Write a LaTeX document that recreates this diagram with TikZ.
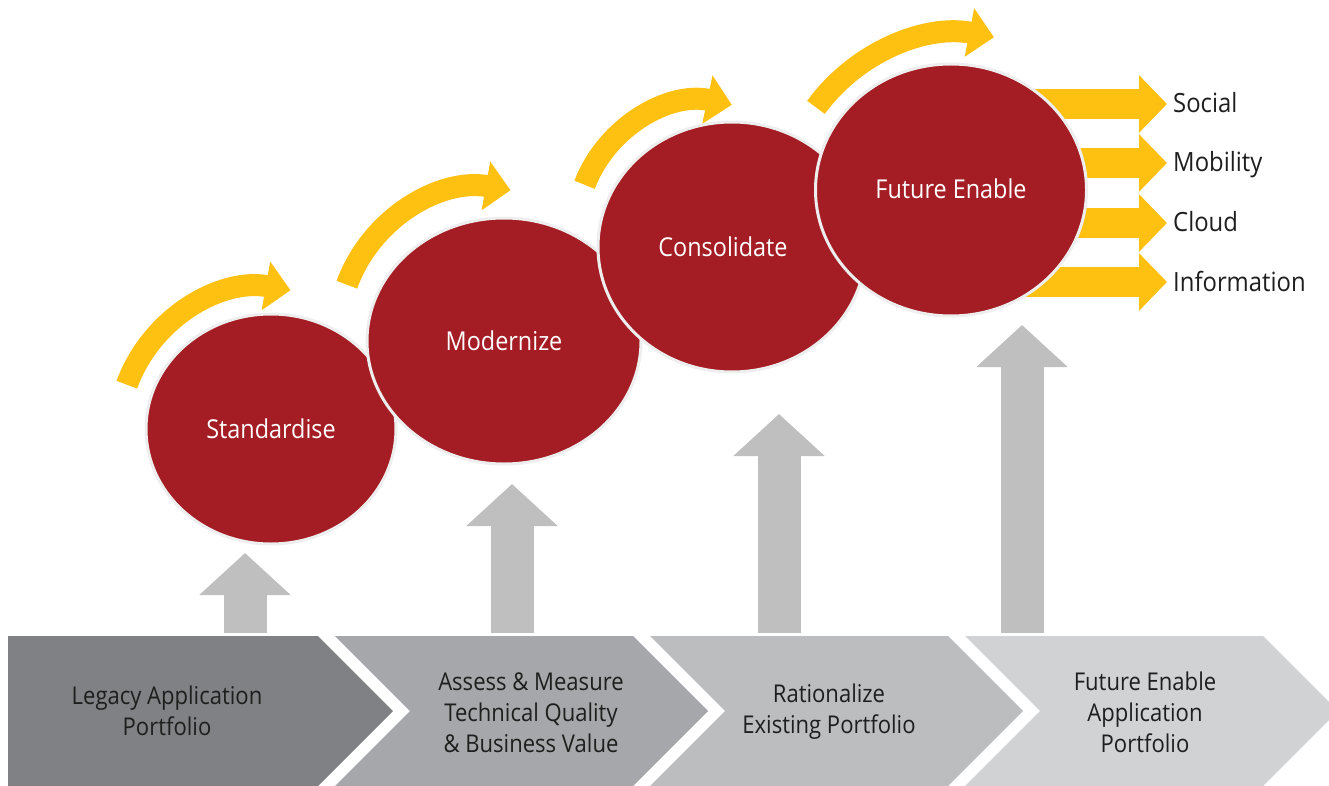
\documentclass[tikz,border=0pt]{standalone}
\usepackage{fontspec}
\setmainfont{Open Sans}[FakeStretch=0.9]
\usetikzlibrary{shapes.geometric,arrows.meta}

\definecolor{stagered}{RGB}{164,29,36}
\definecolor{gold}{RGB}{254,192,17}
\definecolor{arrowgray}{RGB}{191,191,191}
\definecolor{rimgray}{RGB}{238,238,238}
\definecolor{chevA}{RGB}{128,129,133}
\definecolor{chevB}{RGB}{166,167,170}
\definecolor{chevC}{RGB}{188,189,191}
\definecolor{chevD}{RGB}{209,210,212}
\definecolor{textdark}{RGB}{30,30,30}

\tikzset{
  stage/.style={ellipse, fill=stagered, draw=rimgray, line width=3pt, inner sep=0pt,
    text=white, font=\fontsize{26}{30}\selectfont},
  chevtext/.style={align=center, inner sep=0pt, text=textdark,
    font=\fontsize{24.5}{31}\selectfont},
  outlabel/.style={anchor=west, inner sep=0pt, text=textdark, text height=18pt, text depth=0pt,
    font=\fontsize{26.5}{30}\selectfont},
  goldbend/.style={draw=gold, line width=22pt, -{Triangle[length=25pt,width=48pt]}},
  goldout/.style={draw=gold, line width=30pt, shorten >=6pt, -{Triangle[length=28pt,width=56pt]}},
  grayup/.style={draw=arrowgray, line width=43pt, -{Triangle[length=42pt,width=89pt]}}
}

\begin{document}
\begin{tikzpicture}[x=1pt, y=-1pt]
    \useasboundingbox (0,0) rectangle (1329,786);

    % chevrons along the bottom
    \fill[chevA] (8,636) -- (318,636) -- (393,711) -- (318,786) -- (8,786) -- cycle;
    \fill[chevB] (335,636) -- (633,636) -- (708,711) -- (633,786) -- (335,786) -- (410,711) -- cycle;
    \fill[chevC] (650,636) -- (948,636) -- (1023,711) -- (948,786) -- (650,786) -- (725,711) -- cycle;
    \fill[chevD] (965,636) -- (1263,636) -- (1338,711) -- (1263,786) -- (965,786) -- (1040,711) -- cycle;

    \node[chevtext] (legacy) at (167,711) {Legacy Application\\Portfolio};
    \node[chevtext] (assess) at (531,713) {Assess \& Measure\\Technical Quality\\\& Business Value};
    \node[chevtext] (rational) at (829,712) {Rationalize\\Existing Portfolio};
    \node[chevtext] (futport) at (1145,712) {Future Enable\\Application\\Portfolio};

    % gray arrows up to the stages
    \foreach \x/\yt [count=\i] in {245/553, 512/484, 779/414, 1022/325} {
        \coordinate (base\i) at (\x,633);
        \coordinate (tip\i) at (\x,\yt);
        \draw[grayup] (base\i) -- (tip\i);
    }

    % curved gold arrows
    \draw[goldbend] (265,435) ++(-160:147) arc[start angle=-160, end angle=-80, radius=147];
    \draw[goldbend] (485,335) ++(-160:147) arc[start angle=-160, end angle=-80, radius=147];
    \draw[goldbend] (705,231) ++(-159:129) arc[start angle=-159, end angle=-78, radius=129];
    \draw[goldbend] (960,212) ++(-144:178) arc[start angle=-144, end angle=-79, radius=178];

    % outcome labels
    \node[outlabel] (social) at (1173,104) {Social};
    \node[outlabel] (mobility) at (1173,163) {Mobility};
    \node[outlabel] (cloud) at (1173,223) {Cloud};
    \node[outlabel] (information) at (1173,282) {Information};

    \draw[goldout] (1000,104) -- (social.west);
    \draw[goldout] (1000,163) -- (mobility.west);
    \draw[goldout] (1000,223) -- (cloud.west);
    \draw[goldout] (1000,282) -- (information.west);

    % stages
    \node[stage, minimum width=250pt, minimum height=230pt] (stand) at (271,429) {\raisebox{-4pt}{Standardise}};
    \node[stage, minimum width=274pt, minimum height=246pt] (modern) at (504,341) {Modernize};
    \node[stage, minimum width=268pt, minimum height=250pt] (consol) at (732,247) {Consolidate\hspace*{18pt}};
    \node[stage, minimum width=271pt, minimum height=252pt] (future) at (951,190) {\raisebox{3pt}{Future Enable}};
\end{tikzpicture}
\end{document}
